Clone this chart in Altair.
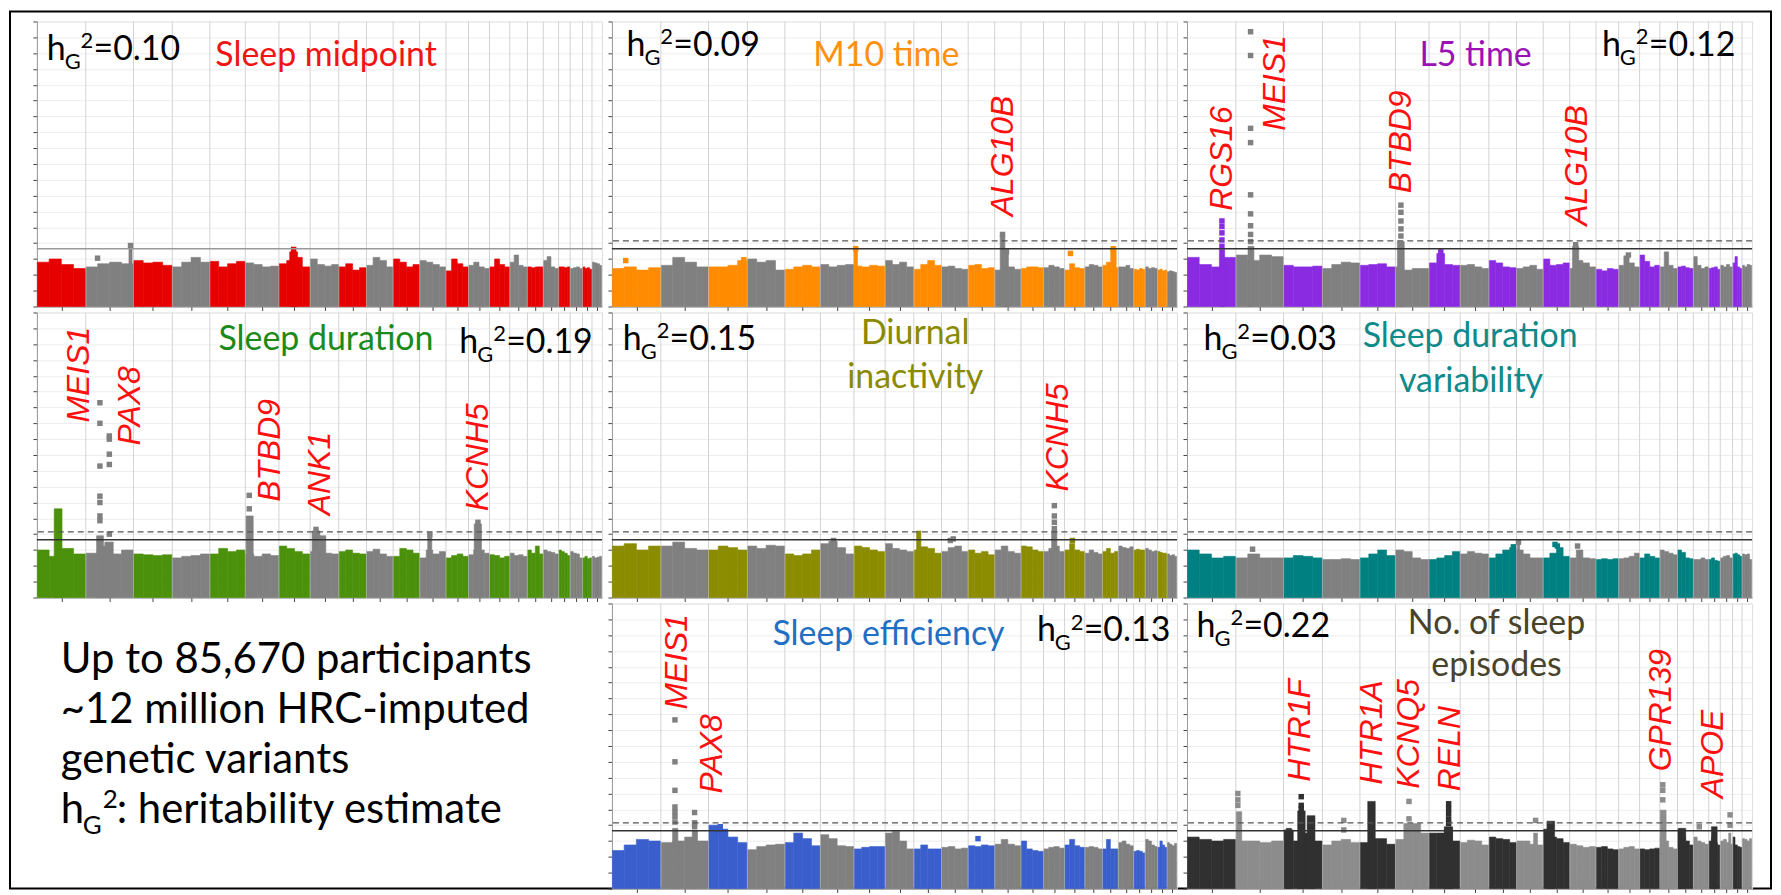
import altair as alt
import pandas as pd

# ---------------- genome layout (hg19 autosome lengths, Mb) ----------------
CHR_LEN = [249, 243, 198, 191, 181, 171, 159, 146, 141, 136, 135, 134,
           115, 107, 103, 90, 81, 78, 59, 63, 48, 51]
Y_TICKS = list(range(0, 37, 2))
Y_MAX = 36
SIG = 7.3      # genome-wide significance, -log10(5e-8)
SUG = 8.3      # stricter threshold, -log10(5e-9)

# ---------------- panel data ----------------
# skyline: per chromosome, top of the dense point cloud in 4 equal bins (-log10 p)
mid_sky = [[5.6, 6.0, 5.3, 4.8], [5.0, 5.4, 5.6, 5.4], [5.8, 5.5, 5.6, 5.2], [5.0, 5.6, 6.2, 5.6],
           [5.7, 5.0, 5.4, 5.7], [5.5, 5.3, 5.0, 5.1], [5.4, 5.8, 6.2, 5.0], [6.0, 5.3, 5.1, 5.3],
           [5.0, 5.4, 4.6, 4.9], [5.2, 6.2, 5.8, 5.0], [6.0, 5.6, 5.0, 5.3], [5.8, 5.6, 5.3, 5.0],
           [4.5, 6.0, 5.4, 5.0], [5.2, 5.6, 5.0, 4.8], [5.0, 6.0, 5.3, 5.0], [5.6, 6.5, 5.2, 5.0],
           [5.0, 4.9, 5.0, 5.0], [5.8, 6.3, 5.0, 4.8], [5.0, 5.0, 4.9, 5.0], [4.8, 4.9, 5.0, 4.8],
           [5.0, 4.8, 4.9, 4.7], [5.6, 5.5, 5.4, 5.2]]
# peak columns: chromosome, start Mb, end Mb, top
mid_cols = [[2, 220, 236, 7.5], [7, 55, 95, 6.9]]
# isolated points: chromosome, Mb, -log10 p
mid_dots = [[2, 228, 7.7], [2, 60, 6.1], [7, 75, 7.2]]
mid_genes = []

m10_sky = [[4.8, 5.0, 4.6, 4.9], [5.2, 6.2, 5.6, 5.0], [5.0, 5.0, 5.2, 5.8], [6.0, 5.6, 5.8, 4.6],
           [4.7, 5.0, 5.2, 5.0], [5.3, 5.0, 5.2, 5.3], [5.1, 5.0, 5.2, 5.1], [5.8, 5.3, 5.6, 5.0],
           [4.7, 5.3, 5.8, 5.2], [5.0, 5.1, 4.8, 4.7], [5.2, 5.3, 4.8, 4.9], [4.6, 5.0, 5.0, 4.7],
           [4.8, 5.0, 5.0, 4.9], [4.9, 5.2, 5.0, 4.8], [4.6, 5.4, 4.9, 4.8], [5.0, 5.3, 5.2, 5.0],
           [5.2, 5.6, 5.6, 4.9], [5.0, 5.0, 5.2, 4.8], [4.7, 4.6, 4.8, 4.7], [5.0, 4.8, 4.9, 4.8],
           [4.6, 4.7, 4.5, 4.6], [4.4, 4.5, 4.4, 4.3]]
m10_cols = [[7, 0, 18, 7.1], [12, 28, 52, 9.0], [12, 52, 70, 6.8], [17, 42, 70, 7.2]]
m10_dots = [[7, 9, 7.3], [12, 40, 9.1], [12, 60, 6.9], [17, 55, 7.3], [15, 30, 6.7], [1, 70, 5.8], [3, 180, 5.9]]
m10_genes = [["ALG10B", 12, 42, 11.4]]

l5_sky = [[6.2, 5.3, 5.0, 6.2], [6.5, 5.8, 6.5, 6.3], [5.2, 5.0, 5.0, 5.1], [4.8, 5.3, 5.6, 5.5],
          [5.2, 5.3, 5.4, 5.0], [5.0, 4.6, 4.8, 4.8], [5.5, 6.7, 5.3, 5.2], [5.2, 5.3, 5.0, 4.8],
          [5.8, 5.5, 5.0, 4.9], [4.8, 5.0, 5.2, 4.7], [6.0, 5.2, 5.3, 5.5], [4.8, 5.8, 5.5, 5.0],
          [4.7, 4.5, 4.8, 4.7], [5.2, 6.4, 5.5, 5.0], [6.5, 5.7, 5.0, 5.2], [5.0, 6.9, 5.2, 4.8],
          [5.0, 5.1, 4.9, 4.8], [6.3, 5.2, 4.8, 5.0], [4.8, 4.9, 5.0, 4.7], [5.2, 5.0, 5.3, 5.0],
          [5.5, 6.3, 5.0, 4.8], [5.2, 5.0, 5.3, 5.2]]
l5_cols = [[1, 165, 192, 7.2], [2, 62, 92, 7.6], [6, 10, 45, 8.2], [12, 14, 46, 7.6]]
l5_dots = [[1, 178, 10.8], [1, 178, 10.1], [1, 178, 9.3], [1, 178, 8.4], [1, 178, 7.6],
           [2, 75, 34.7], [2, 75, 31.7], [2, 75, 22.5], [2, 75, 20.7], [2, 75, 14.1],
           [2, 75, 11.7], [2, 75, 10.2], [2, 75, 9.1], [2, 75, 8.2],
           [6, 28, 12.8], [6, 28, 11.9], [6, 28, 10.8], [6, 28, 9.8], [6, 28, 8.9],
           [12, 30, 7.8], [7, 60, 6.9], [14, 50, 6.5]]
l5_genes = [["RGS16", 1, 176, 12.1], ["MEIS1", 2, 200, 22.2], ["BTBD9", 6, 26, 14.3], ["ALG10B", 12, 35, 10.2]]

sd_sky = [[6.0, 5.2, 6.2, 5.5], [5.6, 6.5, 5.5, 6.0], [5.5, 5.4, 5.3, 5.4], [5.0, 5.2, 5.3, 5.5],
          [5.5, 6.2, 5.8, 6.0], [5.5, 5.2, 5.5, 5.3], [6.5, 6.2, 5.8, 5.5], [5.8, 6.0, 5.6, 5.5],
          [5.8, 6.0, 5.6, 5.5], [5.8, 6.1, 5.5, 5.2], [5.2, 6.2, 6.0, 5.6], [5.0, 6.0, 5.5, 5.8],
          [5.0, 5.3, 5.5, 5.2], [5.4, 6.0, 6.0, 5.6], [5.4, 5.3, 5.0, 5.2], [5.6, 5.3, 5.4, 5.2],
          [6.0, 5.6, 6.5, 5.5], [6.0, 5.8, 5.7, 5.5], [6.0, 5.8, 5.6, 5.3], [5.8, 5.6, 5.5, 5.0],
          [5.0, 5.2, 4.9, 5.0], [5.2, 5.0, 5.1, 5.2]]
sd_cols = [[1, 88, 128, 11.2], [2, 55, 90, 7.8], [2, 97, 140, 7.0], [6, 4, 40, 10.3],
           [8, 10, 50, 8.4], [8, 50, 80, 7.8], [12, 41, 62, 7.6], [14, 29, 66, 9.3]]
sd_dots = [[2, 72, 24.6], [2, 72, 22.0], [2, 72, 16.6], [2, 72, 12.8], [2, 72, 12.0], [2, 72, 10.3], [2, 72, 9.7],
           [2, 120, 20.4], [2, 120, 20.0], [2, 120, 18.1], [2, 120, 16.8], [2, 120, 8.0],
           [6, 20, 12.9], [6, 20, 11.2], [8, 30, 8.6], [12, 52, 7.9], [14, 48, 9.5]]
sd_genes = [["MEIS1", 1, 216, 22.1], ["PAX8", 2, 228, 19.2], ["BTBD9", 6, 125, 12.1],
            ["ANK1", 8, 50, 10.4], ["KCNH5", 14, 50, 10.9]]

di_sky = [[6.5, 6.8, 6.0, 6.5], [6.5, 7.0, 6.2, 6.0], [6.0, 6.5, 6.3, 6.0], [6.5, 6.2, 6.6, 6.5],
          [5.5, 5.3, 5.5, 6.0], [6.8, 7.1, 6.3, 5.5], [6.5, 6.3, 6.0, 5.8], [6.8, 6.2, 6.0, 5.8],
          [6.0, 6.4, 6.2, 5.6], [5.8, 6.3, 6.5, 5.8], [6.0, 5.6, 5.8, 5.4], [6.0, 6.5, 5.8, 5.6],
          [6.5, 6.4, 6.0, 5.8], [5.8, 6.2, 6.5, 5.8], [6.0, 6.8, 6.0, 5.8], [5.6, 6.0, 5.7, 5.5],
          [5.8, 6.2, 5.6, 5.8], [6.5, 6.3, 6.2, 6.4], [6.0, 6.1, 6.0, 6.0], [6.2, 6.0, 5.8, 5.9],
          [5.8, 5.7, 5.6, 5.6], [5.5, 5.3, 5.4, 5.2]]
di_cols = [[9, 14, 36, 8.4], [14, 41, 68, 8.4]]
di_dots = [[14, 55, 11.6], [14, 55, 10.3], [14, 55, 9.5], [14, 55, 8.7],
           [10, 45, 7.2], [10, 60, 7.4], [6, 67, 7.2], [15, 40, 7.2]]
di_genes = [["KCNH5", 14, 74, 13.4]]

sdv_sky = [[6.0, 5.5, 5.0, 5.2], [5.0, 5.5, 5.0, 5.0], [5.0, 5.3, 5.2, 5.0], [4.8, 4.8, 4.9, 4.8],
           [5.0, 5.5, 6.0, 5.3], [6.0, 5.8, 5.0, 4.8], [4.8, 5.0, 5.3, 5.8], [5.5, 5.8, 5.6, 5.5],
           [5.0, 5.5, 6.0, 6.3], [6.0, 5.5, 5.0, 5.0], [5.0, 5.6, 6.3, 5.2], [5.0, 6.0, 5.0, 4.9],
           [4.8, 4.9, 4.8, 4.9], [4.9, 5.0, 5.2, 5.6], [5.0, 5.5, 5.2, 5.0], [6.0, 5.8, 5.6, 5.4],
           [6.0, 5.7, 5.0, 4.9], [4.8, 4.8, 5.0, 4.8], [4.8, 5.0, 4.7, 4.6], [5.0, 5.2, 5.3, 5.0],
           [5.5, 5.6, 5.4, 5.2], [5.5, 5.4, 5.5, 4.8]]
sdv_cols = [[10, 4, 16, 6.9]]
sdv_dots = [[10, 10, 7.0], [9, 125, 6.4], [11, 60, 6.7], [11, 72, 6.5], [12, 40, 6.5], [2, 85, 6.1]]
sdv_genes = []

se_sky = [[4.8, 5.5, 6.2, 6.0], [5.8, 6.0, 6.5, 6.0], [8.0, 7.5, 6.5, 5.8], [4.9, 5.3, 5.5, 5.6],
          [5.8, 7.0, 6.3, 5.4], [6.8, 6.3, 5.4, 5.3], [5.0, 5.2, 5.3, 5.3], [7.0, 7.2, 6.0, 5.0],
          [5.0, 5.5, 5.0, 5.0], [5.2, 5.3, 5.0, 5.1], [5.4, 5.3, 5.5, 5.4], [5.6, 6.2, 5.6, 5.4],
          [6.0, 5.0, 4.8, 4.7], [5.0, 5.2, 5.3, 5.1], [5.5, 6.2, 5.4, 5.2], [5.2, 5.3, 5.2, 5.0],
          [5.0, 6.2, 5.0, 5.0], [5.8, 6.0, 5.6, 5.4], [4.7, 4.8, 4.7, 4.5], [6.2, 6.0, 5.5, 5.3],
          [5.2, 6.0, 5.5, 5.2], [5.8, 5.6, 5.4, 5.7]]
se_cols = [[2, 60, 87, 7.6], [2, 160, 187, 7.3]]
se_dots = [[2, 72, 21.3], [2, 72, 16.0], [2, 72, 12.4], [2, 72, 10.3], [2, 72, 9.7], [2, 72, 9.1], [2, 72, 8.4],
           [2, 172, 9.6], [2, 172, 8.3], [2, 172, 7.8], [3, 60, 7.8], [3, 60, 7.2], [11, 50, 6.3]]
se_genes = [["MEIS1", 2, 82, 22.6], ["PAX8", 3, 18, 12.0]]

ep_sky = [[6.5, 6.2, 6.0, 6.2], [6.0, 6.0, 5.8, 6.0], [7.4, 6.0, 7.0, 6.0], [5.5, 6.0, 6.2, 5.8],
          [5.8, 6.3, 6.3, 5.6], [6.2, 8.2, 8.2, 7.0], [7.0, 7.0, 7.6, 6.0], [5.8, 6.1, 6.0, 5.5],
          [6.5, 6.3, 6.2, 5.8], [6.0, 6.0, 5.6, 5.5], [7.5, 6.5, 6.3, 5.8], [5.6, 5.4, 5.2, 5.3],
          [5.2, 5.3, 5.0, 4.9], [5.0, 5.2, 5.3, 5.0], [5.0, 4.9, 5.0, 5.1], [6.5, 6.0, 5.2, 5.0],
          [7.5, 6.5, 6.0, 5.5], [6.5, 6.0, 5.8, 5.6], [6.0, 6.5, 5.8, 5.5], [6.0, 6.2, 5.8, 5.6],
          [6.5, 5.5, 5.3, 5.2], [6.3, 6.2, 6.0, 6.3]]
ep_cols = [[2, 2, 30, 9.7], [3, 14, 40, 7.6], [3, 72, 110, 9.8], [3, 120, 160, 9.2],
           [5, 40, 78, 11.0], [7, 78, 120, 7.8], [10, 87, 107, 7.0], [11, 19, 58, 8.5],
           [16, 2, 32, 9.9], [17, 5, 42, 7.6], [19, 14, 43, 7.8], [20, 43, 54, 7.0]]
ep_dots = [[2, 10, 12.0], [2, 10, 11.2], [2, 10, 10.5], [3, 90, 11.6], [3, 90, 10.5], [3, 90, 10.1],
           [4, 109, 8.6], [4, 109, 7.4], [6, 69, 11.0], [6, 69, 8.8],
           [7, 100, 10.7], [7, 100, 10.1], [7, 100, 9.5], [7, 100, 8.8], [7, 100, 8.2],
           [10, 97, 8.6], [16, 15, 13.1], [16, 15, 12.4], [16, 15, 11.2], [18, 30, 7.8],
           [20, 50, 9.3], [20, 50, 8.0]]
ep_genes = [["HTR1F", 3, 85, 13.5], ["HTR1A", 5, 62, 13.1], ["KCNQ5", 6, 69, 12.6],
            ["RELN", 7, 106, 12.3], ["GPR139", 16, 6, 14.8], ["APOE", 19, 20, 11.4]]

# trait titles, heritability estimates
TRAITS = ["Sleep midpoint", "M10 time", "L5 time", "Sleep duration", "Diurnal inactivity",
          "Sleep duration variability", "Sleep efficiency", "No. of sleep episodes"]
H2 = ["0.10", "0.09", "0.12", "0.19", "0.15", "0.03", "0.13", "0.22"]
INFO_LINES = ["Up to 85,670 participants", "~12 million HRC-imputed", "genetic variants"]
INFO_LAST = ": heritability estimate"

# ---------------- helpers ----------------
W, H = 567, 286
CHR_START = [sum(CHR_LEN[:i]) for i in range(len(CHR_LEN))]
TOTAL = sum(CHR_LEN)
CENTERS = [s + l / 2 for s, l in zip(CHR_START, CHR_LEN)]
BOUNDS = CHR_START[1:]
GAP = 2.5
GRAY = "#808080"
TFONT = "Lato"

X = alt.X("x:Q", scale=alt.Scale(domain=[0, TOTAL], nice=False, zero=False),
          axis=alt.Axis(values=CENTERS, labels=False, title=None, grid=False, tickSize=4,
                        tickColor="#444444", domainColor="#8a8a8a", tickWidth=1))
Y = alt.Y("y:Q", scale=alt.Scale(domain=[0, Y_MAX], nice=False, zero=True),
          axis=alt.Axis(values=Y_TICKS, labels=False, title=None, grid=True, gridColor="#ededed",
                        tickSize=4, tickColor="#444444", domainColor="#9a9a9a", tickWidth=1))


def cx(c, pos):
    return CHR_START[c - 1] + pos


def colr(c, odd, even):
    return odd if c % 2 == 1 else even


def panel(sky, cols, dots, genes, odd, even=GRAY, sig_only=False):
    rows = []
    for i, hs in enumerate(sky):
        s, L, n = CHR_START[i], CHR_LEN[i], len(hs)
        for k, h in enumerate(hs):
            x0 = s + L * k / n + (GAP if k == 0 else 0)
            x1 = s + L * (k + 1) / n - (GAP if k == n - 1 else 0)
            rows.append({"x": x0, "x2": x1, "y": h, "y0": 0, "c": colr(i + 1, odd, even)})
    sky_df = pd.DataFrame(rows)
    col_df = pd.DataFrame([{"x": cx(c, a), "x2": cx(c, b), "y": t, "y0": 0, "c": colr(c, odd, even)}
                           for c, a, b, t in cols])
    dot_df = pd.DataFrame([{"x": cx(c, p), "y": v, "c": colr(c, odd, even)} for c, p, v in dots])

    layers = [
        alt.Chart(pd.DataFrame({"x": BOUNDS})).mark_rule(color="#d3d3d3", strokeWidth=1).encode(x=X),
        alt.Chart(sky_df).mark_rect(strokeWidth=0.6).encode(
            x=X, x2="x2:Q", y=Y, y2="y0:Q",
            fill=alt.Fill("c:N", scale=None), stroke=alt.Stroke("c:N", scale=None)),
    ]
    if len(col_df):
        layers.append(alt.Chart(col_df).mark_rect(strokeWidth=0.6).encode(
            x=X, x2="x2:Q", y=Y, y2="y0:Q",
            fill=alt.Fill("c:N", scale=None), stroke=alt.Stroke("c:N", scale=None)))
    if len(dot_df):
        layers.append(alt.Chart(dot_df).mark_square(size=30, opacity=1).encode(
            x=X, y=Y, fill=alt.Fill("c:N", scale=None)))
    if sig_only:
        layers.append(alt.Chart(pd.DataFrame({"y": [SIG]})).mark_rule(
            color="#9a9a9a", strokeWidth=1.5).encode(y=Y))
    else:
        layers.append(alt.Chart(pd.DataFrame({"y": [SUG]})).mark_rule(
            color="#555555", strokeWidth=1.2, strokeDash=[6, 4]).encode(y=Y))
        layers.append(alt.Chart(pd.DataFrame({"y": [SIG]})).mark_rule(
            color="#333333", strokeWidth=1.5).encode(y=Y))
    if genes:
        g_df = pd.DataFrame([{"x": cx(c, p), "y": v, "t": n} for n, c, p, v in genes])
        layers.append(alt.Chart(g_df).mark_text(
            font="Liberation Sans", fontStyle="italic", fontSize=32, color="#ff1010",
            angle=270, align="left", baseline="middle").encode(x=X, y=Y, text="t:N"))
    return layers


def title_layer(lines, color, align):
    df = pd.DataFrame([{"x": x, "y": y, "t": t} for t, x, y in lines])
    return alt.Chart(df).mark_text(font=TFONT, fontSize=34, color=color, align=align,
                                   baseline="alphabetic").encode(x=X, y=Y, text="t:N")


def h2_layers(val, x, y):
    d = alt.Chart(pd.DataFrame({"x": [x], "y": [y]}))
    kw = dict(font=TFONT, color="black", align="left", baseline="alphabetic")
    return [
        d.mark_text(text="h", fontSize=34, **kw).encode(x=X, y=Y),
        d.mark_text(text="G", fontSize=22, dx=18, dy=9, **kw).encode(x=X, y=Y),
        d.mark_text(text="2", fontSize=22, dx=34, dy=-12, **kw).encode(x=X, y=Y),
        d.mark_text(text="=" + val, fontSize=34, dx=47, **kw).encode(x=X, y=Y),
    ]


def build(layers):
    return alt.layer(*layers).properties(width=W, height=H)


# Sleep midpoint
p1 = build(panel(mid_sky, mid_cols, mid_dots, mid_genes, "#e60000", sig_only=True)
           + [title_layer([(TRAITS[0], 909, 30.4)], "#f01414", "left")] + h2_layers(H2[0], 50, 31.1))
# M10 time
p2 = build(panel(m10_sky, m10_cols, m10_dots, m10_genes, "#ff8c00")
           + [title_layer([(TRAITS[1], 1026, 30.4)], "#ff9010", "left")] + h2_layers(H2[1], 74, 31.6))
# L5 time
p3 = build(panel(l5_sky, l5_cols, l5_dots, l5_genes, "#8a2be2")
           + [title_layer([(TRAITS[2], 1184, 30.4)], "#9a12b4", "left")] + h2_layers(H2[2], 2114, 31.6))
# Sleep duration
p4 = build(panel(sd_sky, sd_cols, sd_dots, sd_genes, "#4c910c")
           + [title_layer([(TRAITS[3], 925, 31.2)], "#1a8a1a", "left")] + h2_layers(H2[3], 2152, 30.9))
# Diurnal inactivity
p5 = build(panel(di_sky, di_cols, di_dots, di_genes, "#8c8c00")
           + [title_layer([("Diurnal", 1545, 32.0), ("inactivity", 1545, 26.5)], "#8a8a00", "center")]
           + h2_layers(H2[4], 55, 31.3))
# Sleep duration variability
p6 = build(panel(sdv_sky, sdv_cols, sdv_dots, sdv_genes, "#008080")
           + [title_layer([("Sleep duration", 1443, 31.6), ("variability", 1447, 26.0)], "#0f8a8a", "center")]
           + h2_layers(H2[5], 84, 31.2))
# Sleep efficiency
p8 = build(panel(se_sky, se_cols, se_dots, se_genes, "#3a5fcd")
           + [title_layer([(TRAITS[6], 818, 30.8)], "#1f70c4", "left")] + h2_layers(H2[6], 2165, 31.2))
# Number of sleep episodes
p9 = build(panel(ep_sky, ep_cols, ep_dots, ep_genes, "#303030", even="#8c8c8c")
           + [title_layer([("No. of sleep", 1577, 32.2), ("episodes", 1577, 26.8)], "#48432a", "center")]
           + h2_layers(H2[7], 49, 31.8))

# information panel (bottom left) + outer frame
one = pd.DataFrame({"a": [0]})
tk = dict(font=TFONT, color="black", align="left", baseline="alphabetic")
info_layers = [
    alt.Chart(one).mark_rect(fillOpacity=0, stroke="black", strokeWidth=2).encode(
        x=alt.value(-27), x2=alt.value(1740), y=alt.value(-594), y2=alt.value(286)),
]
for i, line in enumerate(INFO_LINES):
    info_layers.append(alt.Chart(one).mark_text(text=line, fontSize=42, **tk).encode(
        x=alt.value(24), y=alt.value(70 + 50 * i)))
yb = 70 + 50 * 3
info_layers += [
    alt.Chart(one).mark_text(text="h", fontSize=42, **tk).encode(x=alt.value(24), y=alt.value(yb)),
    alt.Chart(one).mark_text(text="G", fontSize=26, **tk).encode(x=alt.value(46), y=alt.value(yb + 11)),
    alt.Chart(one).mark_text(text="2", fontSize=26, **tk).encode(x=alt.value(66), y=alt.value(yb - 15)),
    alt.Chart(one).mark_text(text=INFO_LAST, fontSize=42, **tk).encode(x=alt.value(80), y=alt.value(yb)),
]
p7 = alt.layer(*info_layers).properties(width=W, height=H, view=alt.ViewBackground(stroke="transparent"))

chart = (alt.concat(p1, p2, p3, p4, p5, p6, p7, p8, p9, columns=3,
                    spacing={"row": 6, "column": 10}, bounds="flush")
         .properties(padding=0)
         .configure_view(stroke="#a8a8a8", strokeWidth=1)
         .configure(background="white"))

chart.save("out.html", embed_options={"renderer": "svg", "actions": False})
